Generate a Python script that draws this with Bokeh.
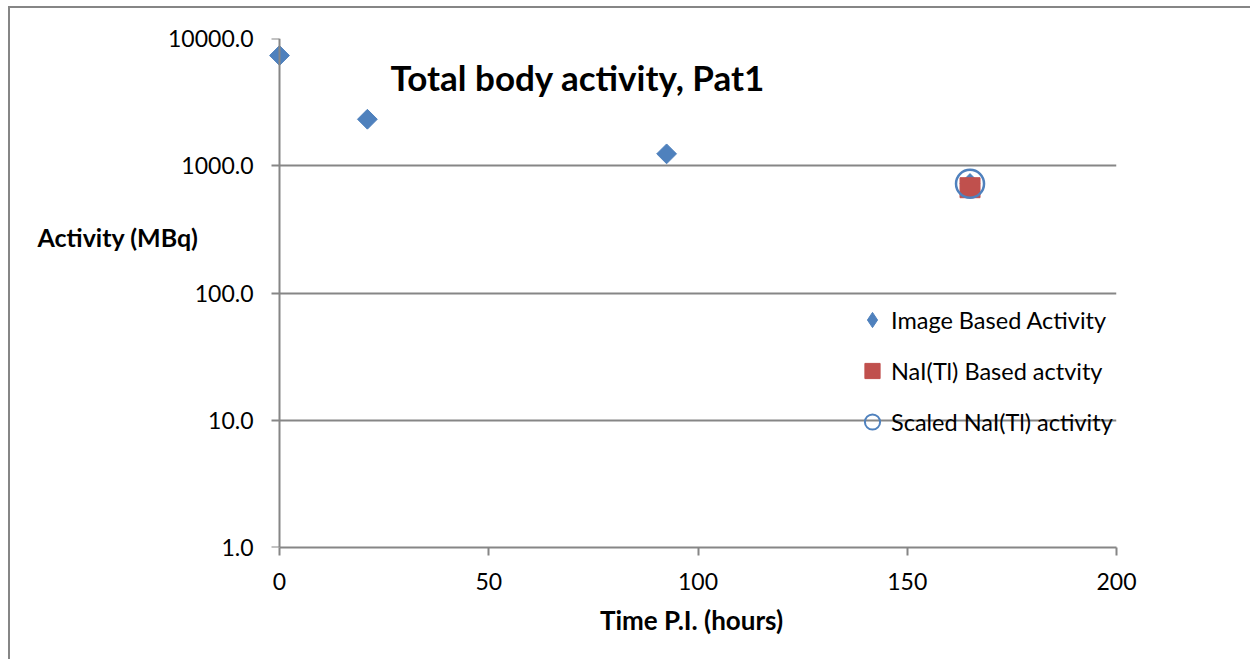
import numpy as np
from bokeh.plotting import figure
from bokeh.models import (Range1d, FixedTicker, PrintfTickFormatter, Label,
                          Legend, LegendItem, LogAxis)
from bokeh.embed import file_html
from bokeh.resources import INLINE

# Total body activity, patient 1
time_image = [0.0, 21.0, 92.5, 165.0]             # hours p.i.
activity_image = [7350.0, 2320.0, 1240.0, 725.0]  # MBq, image based
time_nai = [165.0]
activity_nai = [672.0]                            # MBq, NaI(Tl) probe
time_scaled = [165.0]
activity_scaled = [723.0]                         # MBq, scaled NaI(Tl)

x_ticks = [0, 50, 100, 150, 200]
y_ticks = [1, 10, 100, 1000, 10000]

BLUE = "#4F81BD"
RED = "#C0504D"
GREY = "#868686"
FONT = "Lato"

# plot area: 837 px for 0..200 h, with a little room left of t=0 so the
# first marker is not cut by the frame
PX_PER_H = 837 / 200
PAD_LEFT = 13

p = figure(width=1242, height=653, output_backend="svg", toolbar_location=None,
           y_axis_type="log",
           x_range=Range1d(-PAD_LEFT / PX_PER_H, 200), y_range=Range1d(1, 10000),
           min_border_left=256, min_border_right=136, min_border_top=28,
           min_border_bottom=114)
p.styles = {"margin-left": "8px", "margin-top": "6px",
            "border-left": f"2px solid {GREY}", "border-top": f"2px solid {GREY}"}
p.outline_line_color = None
p.background_fill_color = "white"
p.border_fill_color = "white"

# grid: horizontal decades only
p.xgrid.visible = False
p.ygrid.grid_line_color = GREY
p.ygrid.grid_line_width = 2
p.ygrid.ticker = FixedTicker(ticks=y_ticks)
if "cross_bounds" in p.ygrid[0].properties():
    p.ygrid.cross_bounds = (0, 200)

# x axis
xa = p.xaxis[0]
xa.ticker = FixedTicker(ticks=x_ticks)
xa.bounds = (0, 200)
xa.axis_line_color = GREY
xa.axis_line_width = 2
xa.major_tick_line_color = GREY
xa.major_tick_line_width = 2
xa.major_tick_in = 0
xa.major_tick_out = 8
xa.minor_tick_line_color = None
xa.major_label_text_font = FONT
xa.major_label_text_font_size = "23px"
xa.major_label_text_color = "black"
xa.major_label_standoff = 17
xa.axis_label = "Time P.I. (hours)"
xa.axis_label_text_font = FONT
xa.axis_label_text_font_style = "bold"
xa.axis_label_text_font_size = "26px"
xa.axis_label_text_color = "black"
xa.axis_label_standoff = 11

# y axis tick labels (drawn at the frame edge, left of t=0)
ya = p.yaxis[0]
ya.ticker = FixedTicker(ticks=y_ticks)
ya.formatter = PrintfTickFormatter(format="%.1f")
ya.axis_line_color = None
ya.major_tick_line_color = None
ya.major_tick_in = 0
ya.major_tick_out = 0
ya.minor_tick_line_color = None
ya.major_label_text_font = FONT
ya.major_label_text_font_size = "23px"
ya.major_label_text_color = "black"
ya.major_label_standoff = 13

# y axis line and ticks, pinned at t = 0
yrule = LogAxis(ticker=FixedTicker(ticks=y_ticks), fixed_location=0,
                axis_line_color=GREY, axis_line_width=2,
                major_tick_line_color=GREY, major_tick_line_width=2,
                major_tick_in=0, major_tick_out=8,
                minor_tick_line_color=None, major_label_text_alpha=0,
                major_label_text_font_size="10px", major_label_standoff=0)
p.add_layout(yrule, "left")

# data series
r_img = p.scatter(time_image, activity_image, marker="square", angle=np.pi / 4,
                  size=14, fill_color=BLUE, line_color=BLUE)
r_nai = p.scatter(time_nai, activity_nai, marker="square", size=20,
                  fill_color=RED, line_color=RED)
r_sc = p.scatter(time_scaled, activity_scaled, marker="circle", size=28,
                 fill_color=None, line_color=BLUE, line_width=2.5)

# legend swatches
nan = [np.nan]
k_img = p.scatter(nan, nan, marker="diamond", fill_color=BLUE, line_color=BLUE)
k_nai = p.scatter(nan, nan, marker="square", fill_color=RED, line_color=RED)
k_sc = p.scatter(nan, nan, marker="circle", fill_color=None, line_color=BLUE,
                 line_width=2)

legend = Legend(items=[
    LegendItem(label="Image Based Activity", renderers=[k_img]),
    LegendItem(label="NaI(Tl) Based actvity", renderers=[k_nai]),
    LegendItem(label="Scaled NaI(Tl) activity", renderers=[k_sc]),
], location=(587, 103))
legend.background_fill_alpha = 0
legend.border_line_color = None
legend.padding = 0
legend.margin = 0
legend.spacing = 6
legend.glyph_width = 38
legend.glyph_height = 45
legend.label_standoff = 0
legend.label_text_font = FONT
legend.label_text_font_size = "23.5px"
legend.label_text_color = "black"
p.add_layout(legend)

p.add_layout(Label(x=124, y=471, x_units="screen", y_units="screen",
                   text="Total body activity, Pat1", text_font=FONT,
                   text_font_style="bold", text_font_size="35px",
                   text_baseline="middle", text_color="black"))

# vertical-axis title sits left of the tick labels, above the axis middle
p.add_layout(Label(x=-229, y=-198, x_units="screen", y_units="screen",
                   text="Activity (MBq)", text_font=FONT,
                   text_font_style="bold", text_font_size="25px",
                   text_line_height=1.0, text_baseline="middle",
                   text_color="black"), "above")

open("out.html", "w").write(file_html(p, INLINE))
